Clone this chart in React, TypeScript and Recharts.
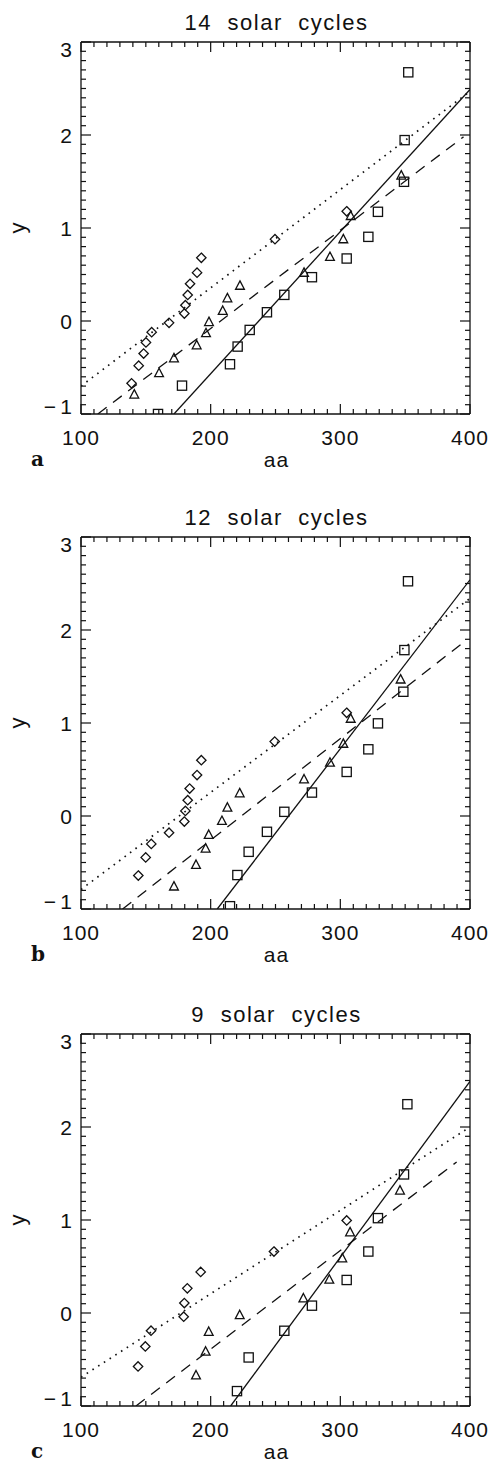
import React from "react";
import { ScatterChart, Scatter, XAxis, YAxis } from "recharts";

// panel a: 14 solar cycles
const diamondAa14 = [139, 144.5, 148.3, 150.1, 154.5, 167.9, 179.7, 180.5, 182.3, 184.1, 189.5, 192.8, 249.6, 304.9];
const diamondY14 = [-0.67, -0.48, -0.35, -0.23, -0.12, -0.02, 0.08, 0.17, 0.28, 0.4, 0.52, 0.68, 0.88, 1.18];
const triangleAa14 = [141.1, 160.2, 171.7, 189.2, 196.4, 198.7, 209.3, 212.9, 222.6, 272.0, 292.0, 302.3, 308.0, 347.0];
const triangleY14 = [-0.79, -0.56, -0.4, -0.26, -0.13, -0.01, 0.11, 0.245, 0.38, 0.52, 0.69, 0.88, 1.13, 1.565];
const squareAa14 = [159.4, 177.9, 214.9, 220.8, 230.1, 243.4, 256.8, 278.1, 304.9, 321.6, 329.0, 349.1, 349.6, 352.4];
const squareY14 = [-1.0, -0.695, -0.465, -0.275, -0.096, 0.094, 0.281, 0.471, 0.672, 0.905, 1.174, 1.497, 1.945, 2.674];
const solidAa14 = [171.7, 400];
const solidY14 = [-1, 2.49];
const dottedAa14 = [100, 400];
const dottedY14 = [-0.7, 2.47];
const dashedAa14 = [113, 395];
const dashedY14 = [-1, 1.98];

// panel b: 12 solar cycles
const diamondAa12 = [144.2, 149.9, 154.2, 167.9, 179.7, 180.5, 182.3, 183.8, 189.5, 192.8, 249.4, 304.9];
const diamondY12 = [-0.64, -0.445, -0.3, -0.18, -0.06, 0.055, 0.17, 0.295, 0.44, 0.6, 0.8, 1.11];
const triangleAa12 = [171.7, 188.7, 196.1, 198.5, 208.7, 212.9, 222.4, 272.0, 292.0, 302.3, 308.0, 346.5];
const triangleY12 = [-0.757, -0.524, -0.349, -0.202, -0.052, 0.091, 0.245, 0.395, 0.574, 0.778, 1.047, 1.469];
const squareAa12 = [214.9, 220.6, 229.3, 243.4, 256.8, 278.1, 304.9, 321.6, 329.0, 348.6, 349.4, 352.2];
const squareY12 = [-0.97, -0.635, -0.385, -0.17, 0.045, 0.252, 0.474, 0.717, 0.996, 1.336, 1.784, 2.524];
const solidAa12 = [205.1, 400];
const solidY12 = [-1, 2.54];
const dottedAa12 = [100, 400];
const dottedY12 = [-0.79, 2.34];
const dashedAa12 = [132.1, 396.1];
const dashedY12 = [-1, 1.88];

// panel c: 9 solar cycles
const diamondAa9 = [144.0, 149.6, 154.0, 179.2, 179.7, 182.0, 192.3, 248.8, 304.9];
const diamondY9 = [-0.575, -0.36, -0.19, -0.04, 0.107, 0.265, 0.442, 0.661, 0.995];
const triangleAa9 = [188.7, 196.1, 198.5, 222.4, 271.5, 291.5, 301.5, 307.5, 346.0];
const triangleY9 = [-0.67, -0.414, -0.202, -0.022, 0.158, 0.359, 0.589, 0.869, 1.318];
const squareAa9 = [220.3, 229.3, 256.8, 278.1, 304.9, 321.6, 329.0, 349.1, 351.7];
const squareY9 = [-0.84, -0.478, -0.191, 0.079, 0.355, 0.661, 1.02, 1.49, 2.245];
const solidAa9 = [215.4, 400];
const solidY9 = [-1, 2.49];
const dottedAa9 = [100, 400];
const dottedY9 = [-0.69, 2.0];
const dashedAa9 = [142.4, 389.7];
const dashedY9 = [-1, 1.624];

const titles = ["14 solar cycles", "12 solar cycles", "9 solar cycles"];
const letters = ["a", "b", "c"];
const xMajor = [100, 200, 300, 400];
const yMajor = [-1, 0, 1, 2, 3];

// minor ticks every 10 on x and 0.1 on y
const xTicks = Array.from({ length: 31 }, (_, i) => 100 + i * 10);
const yTicks = Array.from({ length: 41 }, (_, i) => (i - 10) / 10);

const zip = (aa: number[], y: number[]) => aa.map((a, i) => ({ aa: a, y: y[i] }));

const FONT = "'Liberation Sans', Arial, sans-serif";
const INK = "#111";

const isMajorY = (v: number) => yMajor.some((m) => Math.abs(m - v) < 1e-6);
const fmt = (v: number) => (v < 0 ? "\u2212\u2009" + Math.abs(v) : String(v));

const BottomTick = (p: any) => {
  const { x, y, payload } = p;
  const major = xMajor.includes(payload.value);
  return (
    <g>
      <line x1={x} x2={x} y1={y} y2={y - (major ? 10 : 5)} stroke={INK} strokeWidth={1.2} />
      {major && (
        <text x={x} y={y + 31} textAnchor="middle" fontSize={21} fontFamily={FONT} fill={INK} letterSpacing={1}>
          {payload.value}
        </text>
      )}
    </g>
  );
};

const TopTick = (p: any) => {
  const { x, y, payload } = p;
  const major = xMajor.includes(payload.value);
  return <line x1={x} x2={x} y1={y} y2={y + (major ? 10 : 5)} stroke={INK} strokeWidth={1.2} />;
};

const LeftTick = (p: any) => {
  const { x, y, payload } = p;
  const v = payload.value;
  const major = isMajorY(v);
  // end labels sit inside the frame, as in the original
  const dy = v === 3 ? 15 : v === -1 ? 0 : 7.5;
  return (
    <g>
      <line x1={x} x2={x + (major ? 10 : 5)} y1={y} y2={y} stroke={INK} strokeWidth={1.2} />
      {major && (
        <text x={x - 9} y={y + dy} textAnchor="end" fontSize={21} fontFamily={FONT} fill={INK}>
          {fmt(Math.round(v))}
        </text>
      )}
    </g>
  );
};

const RightTick = (p: any) => {
  const { x, y, payload } = p;
  const major = isMajorY(payload.value);
  return <line x1={x} x2={x - (major ? 10 : 5)} y1={y} y2={y} stroke={INK} strokeWidth={1.2} />;
};

const Diamond = (p: any) => {
  const { cx, cy } = p;
  const r = 4.7;
  return (
    <path
      d={`M${cx},${cy - r}L${cx + r},${cy}L${cx},${cy + r}L${cx - r},${cy}Z`}
      fill="none"
      stroke={INK}
      strokeWidth={1.3}
    />
  );
};

const Triangle = (p: any) => {
  const { cx, cy } = p;
  return (
    <path
      d={`M${cx},${cy - 4.8}L${cx + 4.4},${cy + 3.6}L${cx - 4.4},${cy + 3.6}Z`}
      fill="none"
      stroke={INK}
      strokeWidth={1.3}
    />
  );
};

const Square = (p: any) => {
  const { cx, cy } = p;
  return <rect x={cx - 4.6} y={cy - 4.6} width={9.2} height={9.2} fill="none" stroke={INK} strokeWidth={1.3} />;
};

const NoDot = () => <g />;

type Pt = { aa: number; y: number };
type PanelProps = {
  top: number;
  index: number;
  diamonds: Pt[];
  triangles: Pt[];
  squares: Pt[];
  solid: Pt[];
  dotted: Pt[];
  dashed: Pt[];
};

const W = 491;
const H = 472;
// plot area: x 81..470, y 42..414 (axes take 1px each)
const M = { top: 41, right: 20, bottom: 57, left: 80 };
const PLOT = { left: 81, right: 470, top: 42, bottom: 414 };

function Panel({ top, index, diamonds, triangles, squares, solid, dotted, dashed }: PanelProps) {
  const plotMidY = (PLOT.top + PLOT.bottom) / 2;
  const plotMidX = (PLOT.left + PLOT.right) / 2 + 1;
  const axisLine = { stroke: INK, strokeWidth: 1.3 };
  return (
    <div style={{ position: "absolute", left: 0, top, width: W, height: H }}>
      <ScatterChart width={W} height={H} margin={M}>
        <XAxis
          xAxisId="b"
          type="number"
          dataKey="aa"
          domain={[100, 400]}
          ticks={xTicks}
          interval={0}
          height={1}
          tickSize={0}
          tickMargin={0}
          tickLine={false}
          axisLine={axisLine}
          tick={(p: any) => <BottomTick {...p} />}
          allowDataOverflow
        />
        <XAxis
          xAxisId="t"
          orientation="top"
          type="number"
          dataKey="aa"
          domain={[100, 400]}
          ticks={xTicks}
          interval={0}
          height={1}
          tickSize={0}
          tickMargin={0}
          tickLine={false}
          axisLine={axisLine}
          tick={(p: any) => <TopTick {...p} />}
          allowDataOverflow
        />
        <YAxis
          yAxisId="l"
          type="number"
          dataKey="y"
          domain={[-1, 3]}
          ticks={yTicks}
          interval={0}
          width={1}
          tickSize={0}
          tickMargin={0}
          tickLine={false}
          axisLine={axisLine}
          tick={(p: any) => <LeftTick {...p} />}
          allowDataOverflow
        />
        <YAxis
          yAxisId="r"
          orientation="right"
          type="number"
          dataKey="y"
          domain={[-1, 3]}
          ticks={yTicks}
          interval={0}
          width={1}
          tickSize={0}
          tickMargin={0}
          tickLine={false}
          axisLine={axisLine}
          tick={(p: any) => <RightTick {...p} />}
          allowDataOverflow
        />
        <Scatter
          xAxisId="b"
          yAxisId="l"
          data={dotted}
          line={{ stroke: INK, strokeWidth: 1.7, strokeDasharray: "1.6 5.2" }}
          shape={NoDot}
          isAnimationActive={false}
        />
        <Scatter
          xAxisId="b"
          yAxisId="l"
          data={dashed}
          line={{ stroke: INK, strokeWidth: 1.3, strokeDasharray: "11 8" }}
          shape={NoDot}
          isAnimationActive={false}
        />
        <Scatter
          xAxisId="b"
          yAxisId="l"
          data={solid}
          line={{ stroke: INK, strokeWidth: 1.3 }}
          shape={NoDot}
          isAnimationActive={false}
        />
        <Scatter xAxisId="b" yAxisId="l" data={diamonds} shape={Diamond} isAnimationActive={false} />
        <Scatter xAxisId="b" yAxisId="l" data={triangles} shape={Triangle} isAnimationActive={false} />
        <Scatter xAxisId="b" yAxisId="l" data={squares} shape={Square} isAnimationActive={false} />
      </ScatterChart>
      <svg
        width={W}
        height={H}
        style={{ position: "absolute", left: 0, top: 0, pointerEvents: "none" }}
      >
        <text
          x={plotMidX}
          y={PLOT.top - 12}
          textAnchor="middle"
          fontSize={22}
          fontFamily={FONT}
          fill={INK}
          letterSpacing={1.5}
          wordSpacing={8}
        >
          {titles[index]}
        </text>
        <text
          x={25}
          y={plotMidY}
          textAnchor="middle"
          fontSize={22}
          fontFamily={FONT}
          fill={INK}
          transform={`rotate(-90, 25, ${plotMidY})`}
        >
          y
        </text>
        <text
          x={plotMidX}
          y={PLOT.bottom + 53}
          textAnchor="middle"
          fontSize={21}
          fontFamily={FONT}
          fill={INK}
          letterSpacing={1}
        >
          aa
        </text>
        <text
          x={31}
          y={PLOT.bottom + 52}
          fontSize={20}
          fontWeight="bold"
          fontFamily="'DejaVu Serif', 'Liberation Serif', serif"
          fill={INK}
        >
          {letters[index]}
        </text>
      </svg>
    </div>
  );
}

export default function App() {
  return (
    <div style={{ position: "absolute", left: 0, top: 0, width: 491, height: 1464, background: "#fff", overflow: "hidden" }}>
      <Panel
        top={0}
        index={0}
        diamonds={zip(diamondAa14, diamondY14)}
        triangles={zip(triangleAa14, triangleY14)}
        squares={zip(squareAa14, squareY14)}
        solid={zip(solidAa14, solidY14)}
        dotted={zip(dottedAa14, dottedY14)}
        dashed={zip(dashedAa14, dashedY14)}
      />
      <Panel
        top={495}
        index={1}
        diamonds={zip(diamondAa12, diamondY12)}
        triangles={zip(triangleAa12, triangleY12)}
        squares={zip(squareAa12, squareY12)}
        solid={zip(solidAa12, solidY12)}
        dotted={zip(dottedAa12, dottedY12)}
        dashed={zip(dashedAa12, dashedY12)}
      />
      <Panel
        top={992}
        index={2}
        diamonds={zip(diamondAa9, diamondY9)}
        triangles={zip(triangleAa9, triangleY9)}
        squares={zip(squareAa9, squareY9)}
        solid={zip(solidAa9, solidY9)}
        dotted={zip(dottedAa9, dottedY9)}
        dashed={zip(dashedAa9, dashedY9)}
      />
    </div>
  );
}
